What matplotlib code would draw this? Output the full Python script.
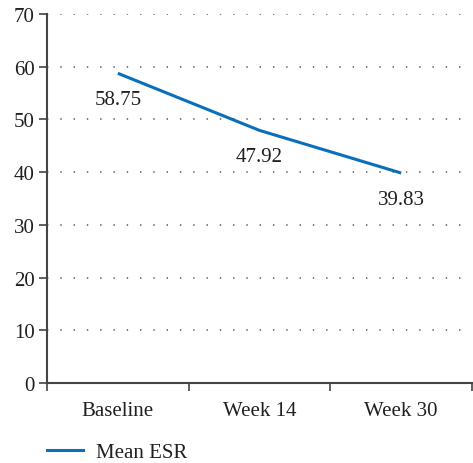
import matplotlib
matplotlib.use("Agg")
import matplotlib.pyplot as plt
from matplotlib.lines import Line2D

categories = ["Baseline", "Week 14", "Week 30"]
mean_esr = [58.75, 47.92, 39.83]
labels = ["58.75", "47.92", "39.83"]
yticks = [0, 10, 20, 30, 40, 50, 60, 70]

plt.rcParams['font.family'] = ['Liberation Serif', 'DejaVu Serif']
fig = plt.figure(figsize=(4.73, 4.64), dpi=100)
ax = fig.add_axes([47/473, 1-384/464, 425/473, (384-15)/464])

x = list(range(len(categories)))
ax.plot(x, mean_esr, color="#0a6fba", lw=2.2, solid_capstyle='butt')
for xi, v, t in zip(x, mean_esr, labels):
    ax.annotate(t, (xi, v), xytext=(0, -26), textcoords="offset pixels",
                ha="center", va="center", fontsize=15, color="#231f20")

ax.set_xlim(-0.5, 2.5)
ax.set_ylim(0, 70)
ax.set_yticks(yticks)
ax.set_xticks([-0.5, 0.5, 1.5, 2.5])
ax.set_xticklabels([])
ax.set_xticks(x, minor=True)
ax.set_xticklabels(categories, minor=True)
ax.tick_params(axis='x', which='minor', length=0, pad=13, labelsize=15, colors="#231f20")
ax.tick_params(axis='x', which='major', length=6, width=1.2, color="#444444")
ax.tick_params(axis='y', length=6, width=1.2, color="#444444", labelsize=15, labelcolor="#231f20", pad=3)
for s in ["top", "right"]:
    ax.spines[s].set_visible(False)
for s in ["left", "bottom"]:
    ax.spines[s].set_color("#444444")
    ax.spines[s].set_linewidth(1.5)
ax.grid(axis='y', linestyle=(0, (0.9, 7.8)), color="#555555", lw=1.1)
ax.set_axisbelow(True)

handle = Line2D([], [], color="#0a6fba", lw=2.2)
fig.legend([handle], ["Mean ESR"], loc="center left", bbox_to_anchor=(47/473, 1-453/464),
           borderaxespad=0, borderpad=0, frameon=False, fontsize=15, handlelength=1.75,
           handletextpad=0.6, labelcolor="#231f20")

fig.savefig("out.png", dpi=100)
